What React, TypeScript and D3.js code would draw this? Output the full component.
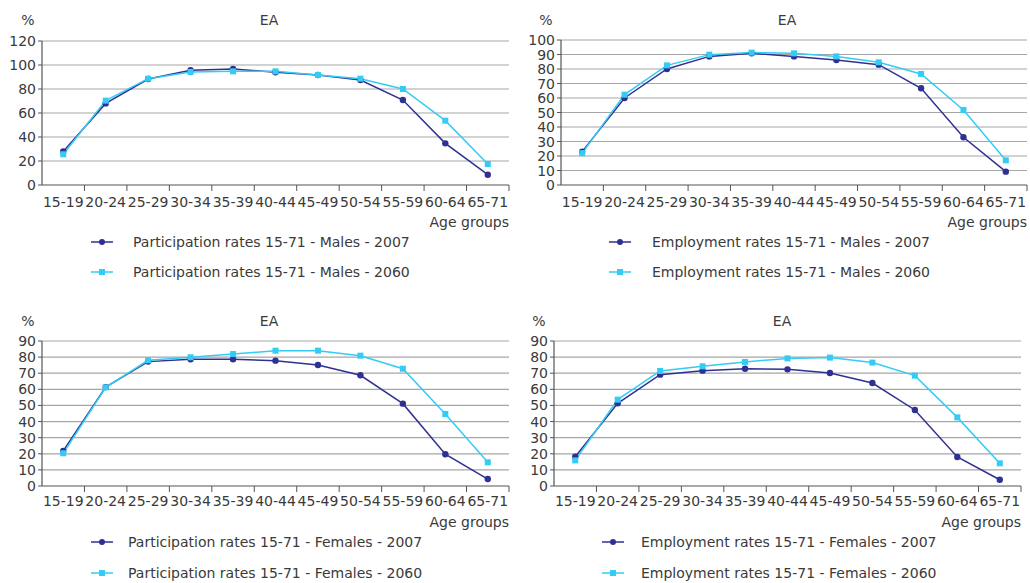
import React from "react";
import * as d3 from "d3";

const ageGroups = ["15-19", "20-24", "25-29", "30-34", "35-39", "40-44", "45-49", "50-54", "55-59", "60-64", "65-71"];

const partMales2007 = [28, 68, 88.3, 95.6, 96.7, 93.9, 91.7, 87.5, 70.8, 34.7, 8.6];
const partMales2060 = [25.6, 70.3, 88.6, 94.2, 94.7, 94.7, 91.7, 88.6, 80, 53.6, 17.5];
const empMales2007 = [23, 60, 80, 88.7, 90.8, 88.7, 86.2, 83, 66.7, 32.9, 9.2];
const empMales2060 = [22, 62.3, 82.5, 89.9, 91.3, 90.8, 88.7, 84.6, 76.6, 51.7, 17];
const partFemales2007 = [21.7, 61.4, 77.2, 78.6, 78.6, 77.8, 75.1, 68.7, 51.1, 19.7, 4.3];
const partFemales2060 = [20.3, 61.2, 78, 79.9, 81.9, 84, 84, 80.9, 72.8, 44.7, 14.7];
const empFemales2007 = [18.2, 51.3, 69.1, 71.6, 72.8, 72.4, 70.1, 63.9, 47.2, 18, 3.9];
const empFemales2060 = [15.9, 53.6, 71.4, 74.3, 77, 79.2, 79.7, 76.6, 68.5, 42.6, 14.1];

const DARK = "#2E3192";
const LIGHT = "#33CCF5";
const TXT = "#3a3a3a";
const FONT = "DejaVu Sans, sans-serif";
const FS = 14;

type PanelCfg = {
  left: number; right: number; top: number; bottom: number;
  yMax: number; yStep: number;
  titleX: number; titleY: number; pctX: number;
  legMarkX: number; legTextX: number; legY1: number; legY2: number;
  labelY: number; ageY: number;
  s1: number[]; s2: number[]; n1: string; n2: string;
};

const panels: PanelCfg[] = [
  { left: 42, right: 509, top: 41, bottom: 185, yMax: 120, yStep: 20, titleX: 269, titleY: 25, pctX: 28,
    legMarkX: 91, legTextX: 133, legY1: 247, legY2: 277, labelY: 207, ageY: 227,
    s1: partMales2007, s2: partMales2060,
    n1: "Participation rates 15-71 - Males - 2007", n2: "Participation rates 15-71 - Males - 2060" },
  { left: 561, right: 1027, top: 40, bottom: 185, yMax: 100, yStep: 10, titleX: 787, titleY: 25, pctX: 546,
    legMarkX: 609, legTextX: 652, legY1: 247, legY2: 277, labelY: 207, ageY: 227,
    s1: empMales2007, s2: empMales2060,
    n1: "Employment rates 15-71 - Males - 2007", n2: "Employment rates 15-71 - Males - 2060" },
  { left: 42, right: 509, top: 341, bottom: 486, yMax: 90, yStep: 10, titleX: 269, titleY: 326, pctX: 28,
    legMarkX: 91, legTextX: 128, legY1: 547, legY2: 578, labelY: 506, ageY: 527,
    s1: partFemales2007, s2: partFemales2060,
    n1: "Participation rates 15-71 - Females - 2007", n2: "Participation rates 15-71 - Females - 2060" },
  { left: 554, right: 1021, top: 341, bottom: 486, yMax: 90, yStep: 10, titleX: 782, titleY: 326, pctX: 539,
    legMarkX: 602, legTextX: 641, legY1: 547, legY2: 578, labelY: 506, ageY: 527,
    s1: empFemales2007, s2: empFemales2060,
    n1: "Employment rates 15-71 - Females - 2007", n2: "Employment rates 15-71 - Females - 2060" },
];

function Panel({ p }: { p: PanelCfg }) {
  const x = d3.scaleBand<string>().domain(ageGroups).range([p.left, p.right]).padding(0);
  const y = d3.scaleLinear().domain([0, p.yMax]).range([p.bottom, p.top]);
  const ticks = d3.range(0, p.yMax + 0.001, p.yStep);
  const cx = (i: number) => (x(ageGroups[i]) as number) + x.bandwidth() / 2;
  const line = d3.line<number>().x((_, i) => cx(i)).y((v) => y(v));
  const boundaries = ageGroups.map((g) => (x(g) as number) + x.bandwidth());
  return (
    <g fontFamily={FONT} fill={TXT}>
      <text x={p.titleX} y={p.titleY} textAnchor="middle" fontSize={FS}>EA</text>
      <text x={p.pctX} y={p.titleY} textAnchor="middle" fontSize={FS}>%</text>
      {ticks.map((t) => (
        <g key={t}>
          {t > 0 && <line x1={p.left} x2={p.right} y1={y(t)} y2={y(t)} stroke="#a6a6a6" strokeWidth={1.2} />}
          <line x1={p.left - 4} x2={p.left} y1={y(t)} y2={y(t)} stroke="#555" strokeWidth={1} />
          <text x={p.left - 6} y={y(t) + 5} textAnchor="end" fontSize={FS}>{t}</text>
        </g>
      ))}
      <line x1={p.left} x2={p.left} y1={p.top} y2={p.bottom} stroke="#555" strokeWidth={1.2} />
      <line x1={p.left} x2={p.right} y1={p.bottom} y2={p.bottom} stroke="#555" strokeWidth={1.2} />
      {boundaries.map((b, i) => (
        <line key={i} x1={b} x2={b} y1={p.bottom} y2={p.bottom + 6} stroke="#555" strokeWidth={1} />
      ))}
      {ageGroups.map((g, i) => (
        <text key={g} x={cx(i)} y={p.labelY} textAnchor="middle" fontSize={FS}>{g}</text>
      ))}
      <text x={p.right} y={p.ageY} textAnchor="end" fontSize={FS}>Age groups</text>
      <path d={line(p.s1) || ""} fill="none" stroke={DARK} strokeWidth={1.5} />
      <path d={line(p.s2) || ""} fill="none" stroke={LIGHT} strokeWidth={1.5} />
      {p.s1.map((v, i) => <circle key={"a" + i} cx={cx(i)} cy={y(v)} r={3.2} fill={DARK} />)}
      {p.s2.map((v, i) => <rect key={"b" + i} x={cx(i) - 3} y={y(v) - 3} width={6} height={6} fill={LIGHT} />)}
      <line x1={p.legMarkX} x2={p.legMarkX + 22} y1={p.legY1 - 5} y2={p.legY1 - 5} stroke={DARK} strokeWidth={1.5} />
      <circle cx={p.legMarkX + 11} cy={p.legY1 - 5} r={3} fill={DARK} />
      <text x={p.legTextX} y={p.legY1} fontSize={FS}>{p.n1}</text>
      <line x1={p.legMarkX} x2={p.legMarkX + 22} y1={p.legY2 - 5} y2={p.legY2 - 5} stroke={LIGHT} strokeWidth={1.5} />
      <rect x={p.legMarkX + 8} y={p.legY2 - 8} width={6} height={6} fill={LIGHT} />
      <text x={p.legTextX} y={p.legY2} fontSize={FS}>{p.n2}</text>
    </g>
  );
}

export default function App() {
  return (
    <div style={{ position: "absolute", left: 0, top: 0 }}>
      <svg width={1030} height={583} style={{ display: "block", background: "#fff" }}>
        {panels.map((p, i) => <Panel key={i} p={p} />)}
      </svg>
    </div>
  );
}
